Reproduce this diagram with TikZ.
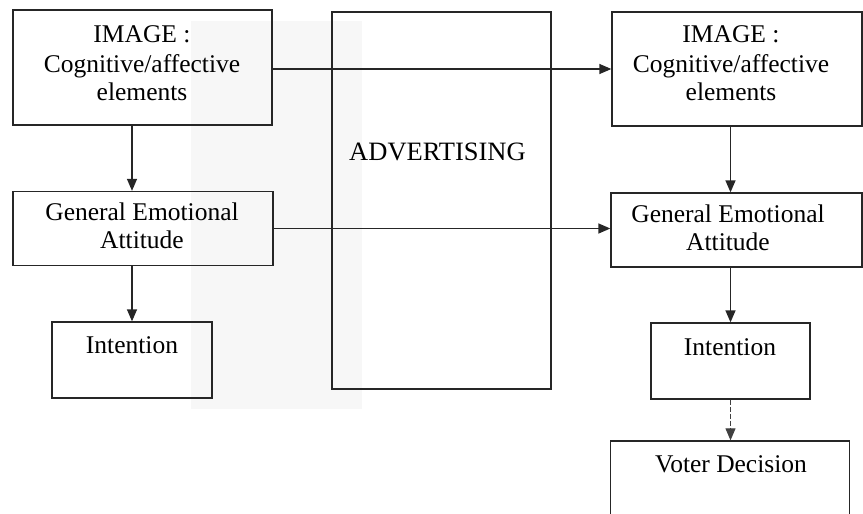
\documentclass[tikz,border=0pt]{standalone}
\usepackage{fontspec}
\setmainfont{Liberation Serif}
\usetikzlibrary{arrows.meta}
\begin{document}
\begin{tikzpicture}[x=1pt,y=-1pt,
  box/.style={draw=black!85, line width=1.3pt, rectangle, inner sep=0pt},
  txt/.style={inner sep=0pt, anchor=base, font=\fontsize{25.5}{29}\selectfont},
  arr/.style={draw=black!85, line width=1.3pt, -{Triangle[length=12pt,width=10pt]}},
  thinarr/.style={draw=black!75, line width=1pt, dash pattern=on 5pt off 2pt, -{Triangle[length=12pt,width=10pt]}}
]
\useasboundingbox (0,0) rectangle (863,514);
\clip (0,0) rectangle (863,514);
% faint scan shading
\fill[black!3] (191,21) rectangle (362,409);

% left column
\node[box, minimum width=259pt, minimum height=115pt] (L1) at (142.5,67.5) {};
\node[txt] (L1a) at (142,42) {IMAGE :};
\node[txt] (L1b) at (142,72) {Cognitive/affective};
\node[txt] (L1c) at (142,100) {elements};
\node[box, minimum width=260pt, minimum height=74pt] (L2) at (143,228.5) {};
\node[txt] (L2a) at (142,220) {General Emotional};
\node[txt] (L2b) at (142,248) {Attitude};
\node[box, minimum width=160pt, minimum height=76pt] (L3) at (132,360) {};
\node[txt] (L3a) at (132,353) {Intention};

% advertising
\node[box, minimum width=219pt, minimum height=377pt] (ADV) at (441.5,200.5) {};
\node[txt, font=\fontsize{26.5}{29}\selectfont] (ADVt) at (437.5,160) {ADVERTISING};

% right column
\node[box, minimum width=250pt, minimum height=114pt] (R1) at (737,69) {};
\node[txt] (R1a) at (731,42) {IMAGE :};
\node[txt] (R1b) at (731,72) {Cognitive/affective};
\node[txt] (R1c) at (731,100) {elements};
\node[box, minimum width=251pt, minimum height=74pt] (R2) at (736.5,230) {};
\node[txt] (R2a) at (728,222) {General Emotional};
\node[txt] (R2b) at (728,250) {Attitude};
\node[box, minimum width=159pt, minimum height=76pt] (R3) at (730.5,361) {};
\node[txt] (R3a) at (730,355) {Intention};
\node[box, minimum width=239pt, minimum height=100pt] (R4) at (730,491) {};
\node[txt] (R4a) at (731,472) {Voter Decision};

% connectors
\draw[arr] (L1.south -| L3.center) -- (L2.north -| L3.center);
\draw[arr] (L2.south -| L3.center) -- (L3.north);
\draw[arr] (L1.east |- R1.west) -- (R1.west);
\draw[arr] (L2.east) -- (L2.east -| R2.west);
\draw[arr] (R1.south -| R3.center) -- (R2.north -| R3.center);
\draw[arr] (R2.south -| R3.center) -- (R3.north);
\draw[thinarr] (R3.south) -- (R4.north -| R3.south);
\end{tikzpicture}
\end{document}
